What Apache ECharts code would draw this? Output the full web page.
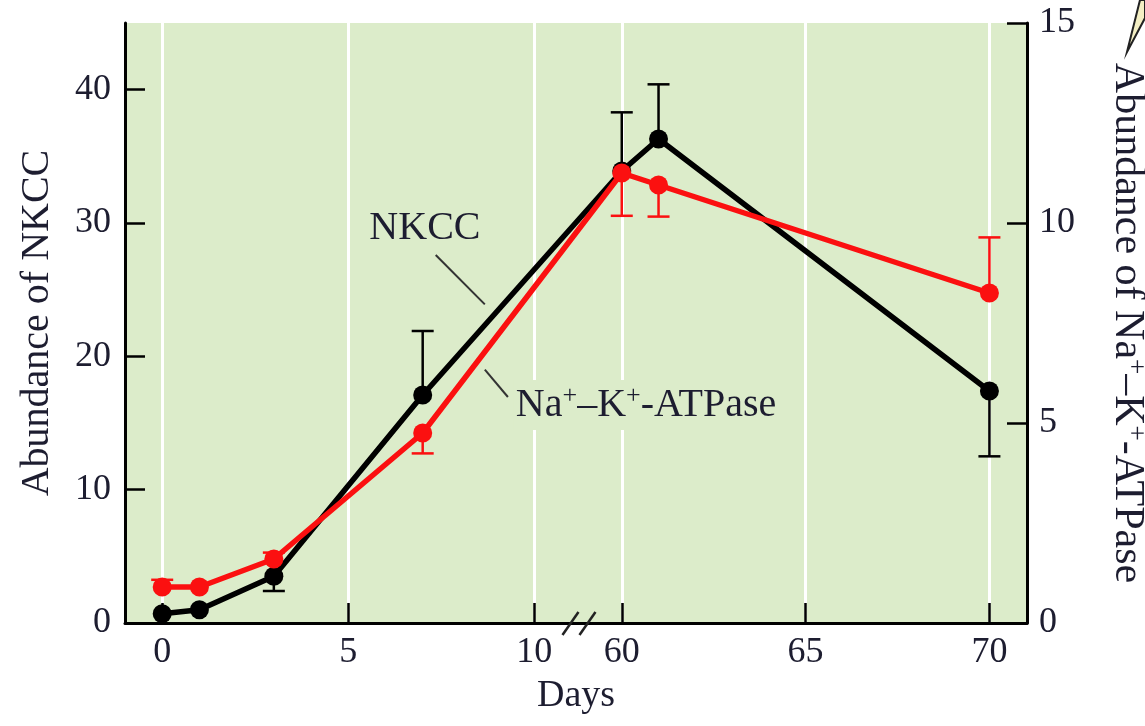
<!doctype html>
<html>
<head>
<meta charset="utf-8">
<title>NKCC and Na+-K+-ATPase</title>
<style>
  html, body { margin: 0; padding: 0; background: #fff; }
  #main { width: 1145px; height: 726px; }
</style>
</head>
<body>
<div id="main"></div>
<script src="https://cdn.jsdelivr.net/npm/echarts@6/dist/echarts.min.js"></script>
<script>
var days = [0, 1, 3, 7, 60, 61, 70];
var nkcc = [0.7, 1.0, 3.5, 17.1, 33.9, 36.3, 17.4];
var nkccBarEnd = [null, null, 2.4, 21.9, 38.3, 40.4, 12.5];
var atpase = [0.9, 0.9, 1.6, 4.75, 11.25, 10.95, 8.25];
var atpaseBarEnd = [1.08, null, 1.76, 4.24, 10.18, 10.16, 9.64];

var dayTicks = [0, 5, 10, 60, 65, 70];
var nkccTicks = [0, 10, 20, 30, 40];
var atpaseTicks = [0, 5, 10, 15];

var serif = "'Liberation Serif', 'DejaVu Serif', serif";
var ink = '#1d1d30';
var red = '#fb1010';

// the day axis is cut between 10 and 60
function dayToX(d) {
    return d <= 10 ? d : 12.35 + (d - 60) * 0.988;
}
var tickX = dayTicks.map(dayToX);

function lineData(vals) {
    return days.map(function (d, i) { return [dayToX(d), vals[i]]; });
}

function errorBars(vals, ends, color, yIdx, z) {
    var data = [];
    days.forEach(function (d, i) {
        if (ends[i] != null) data.push([dayToX(d), vals[i], ends[i]]);
    });
    return {
        type: 'custom',
        yAxisIndex: yIdx,
        z: z,
        silent: true,
        encode: { x: 0, y: [1, 2] },
        data: data,
        renderItem: function (params, api) {
            var p = api.coord([api.value(0), api.value(1)]);
            var e = api.coord([api.value(0), api.value(2)]);
            var w = 11;
            var st = { stroke: color, lineWidth: 2.5 };
            return {
                type: 'group',
                children: [
                    { type: 'line', shape: { x1: p[0], y1: p[1], x2: e[0], y2: e[1] }, style: st },
                    { type: 'line', shape: { x1: e[0] - w, y1: e[1], x2: e[0] + w, y2: e[1] }, style: st }
                ]
            };
        }
    };
}

var nameStyle = { fontFamily: serif, fontSize: 40, color: ink };

var chart = echarts.init(document.getElementById('main'));
chart.setOption({
    animation: false,
    grid: {
        left: 125, right: 118, top: 23, bottom: 103,
        outerBoundsMode: 'none',
        show: true, backgroundColor: '#dcecca', borderWidth: 0
    },
    xAxis: {
        type: 'value',
        min: -1,
        max: 23.24,
        name: 'Days',
        nameLocation: 'middle',
        nameGap: 54,
        nameTextStyle: { fontFamily: serif, fontSize: 38, color: ink },
        axisLine: { onZero: false, lineStyle: { color: '#000', width: 3 } },
        axisTick: { inside: true, length: 20, customValues: tickX, lineStyle: { color: '#000', width: 2.5 } },
        axisLabel: {
            customValues: tickX,
            margin: 12,
            fontFamily: serif, fontSize: 36, color: ink,
            formatter: function (v) {
                for (var i = 0; i < tickX.length; i++) {
                    if (Math.abs(tickX[i] - v) < 1e-6) return String(dayTicks[i]);
                }
                return '';
            }
        },
        splitLine: { show: true, lineStyle: { color: '#fff', width: 3 } }
    },
    yAxis: [{
        type: 'value',
        min: 0,
        max: 45,
        position: 'left',
        name: 'Abundance of NKCC',
        nameLocation: 'middle',
        nameGap: 68,
        nameTextStyle: nameStyle,
        axisLine: { show: true, onZero: false, lineStyle: { color: '#000', width: 3 } },
        axisTick: { show: true, inside: true, length: 20, customValues: nkccTicks, lineStyle: { color: '#000', width: 2.5 } },
        axisLabel: { customValues: nkccTicks, margin: 14, fontFamily: serif, fontSize: 36, color: ink },
        splitLine: { show: false }
    }, {
        type: 'value',
        min: 0,
        max: 15,
        position: 'right',
        name: '{b|Abundance of Na}{s|+}{b|–K}{s|+}{b|-ATPase}',
        nameLocation: 'middle',
        nameGap: 78,
        nameRotate: -90,
        nameTextStyle: {
            rich: {
                b: { fontFamily: serif, fontSize: 42, color: ink, lineHeight: 44 },
                s: { fontFamily: serif, fontSize: 27, color: ink, lineHeight: 44, verticalAlign: 'top', padding: [0, 0, 14, 0] }
            }
        },
        axisLine: { show: true, onZero: false, lineStyle: { color: '#000', width: 3 } },
        axisTick: { show: true, inside: true, length: 20, customValues: atpaseTicks, lineStyle: { color: '#000', width: 2.5 } },
        axisLabel: { customValues: atpaseTicks, margin: 12, fontFamily: serif, fontSize: 36, color: ink },
        splitLine: { show: false }
    }],
    series: [
        errorBars(nkcc, nkccBarEnd, '#000', 0, 2),
        {
            name: 'NKCC',
            type: 'line',
            yAxisIndex: 0,
            z: 3,
            data: lineData(nkcc),
            symbol: 'circle',
            symbolSize: 19,
            lineStyle: { color: '#000', width: 5.5 },
            itemStyle: { color: '#000' }
        },
        errorBars(atpase, atpaseBarEnd, red, 1, 4),
        {
            name: 'Na+-K+-ATPase',
            type: 'line',
            yAxisIndex: 1,
            z: 5,
            data: lineData(atpase),
            symbol: 'circle',
            symbolSize: 19,
            lineStyle: { color: red, width: 5.5 },
            itemStyle: { color: red }
        }
    ]
});

// labels, leader lines and the axis break, placed in data coordinates
function px(x, y) {
    return chart.convertToPixel({ xAxisIndex: 0, yAxisIndex: 0 }, [x, y]);
}
var nk = px(7.06, 29.6);
var nkA = px(7.35, 27.6), nkB = px(8.67, 23.9);
var na = px(9.45, 16.35);
var naA = px(8.67, 19.0), naB = px(9.29, 16.95);
var br = px(11.2, 0);

chart.setOption({
    graphic: [
        {
            type: 'text', x: nk[0], y: nk[1], z: 10,
            style: { text: 'NKCC', font: '40px ' + serif, fill: ink, align: 'center', verticalAlign: 'middle' }
        },
        {
            type: 'line', z: 10,
            shape: { x1: nkA[0], y1: nkA[1], x2: nkB[0], y2: nkB[1] },
            style: { stroke: '#333', lineWidth: 2 }
        },
        {
            type: 'text', x: na[0], y: na[1], z: 10,
            style: {
                text: '{b|Na}{s|+}{b|–K}{s|+}{b|-ATPase}',
                align: 'left', verticalAlign: 'middle',
                backgroundColor: '#dcecca',
                padding: [3, 2, 3, 2],
                rich: {
                    b: { font: '40px ' + serif, fill: ink, lineHeight: 44 },
                    s: { font: '26px ' + serif, fill: ink, lineHeight: 44, verticalAlign: 'top', padding: [0, 0, 14, 0] }
                }
            }
        },
        {
            type: 'line', z: 10,
            shape: { x1: naA[0], y1: naA[1], x2: naB[0], y2: naB[1] },
            style: { stroke: '#333', lineWidth: 2 }
        },
        {
            type: 'line', z: 10,
            shape: { x1: br[0] - 16.5, y1: br[1] + 12, x2: br[0] - 0.5, y2: br[1] - 11 },
            style: { stroke: '#222', lineWidth: 2.5 }
        },
        {
            type: 'line', z: 10,
            shape: { x1: br[0] + 0.5, y1: br[1] + 12, x2: br[0] + 16.5, y2: br[1] - 11 },
            style: { stroke: '#222', lineWidth: 2.5 }
        },
        {
            type: 'polygon', z: 10,
            shape: { points: [[1127, 52], [1140, 0], [1145, 0], [1145, 18]] },
            style: { fill: '#f4efc4', stroke: '#222', lineWidth: 2 }
        }
    ]
});

window.addEventListener('resize', function () {
    chart.resize();
});
</script>
</body>
</html>
